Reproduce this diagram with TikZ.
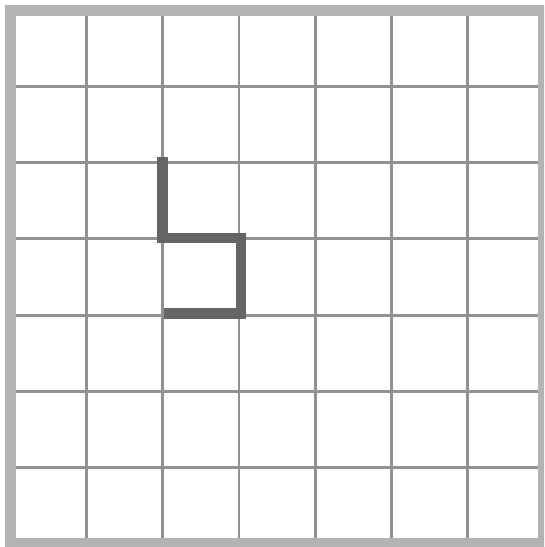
\documentclass[tikz,border=0pt]{standalone}
\usetikzlibrary{calc}
\definecolor{framegray}{HTML}{B3B3B3}
\definecolor{linegray}{HTML}{919191}
\definecolor{walkgray}{HTML}{666666}
\tikzset{
  gridline/.style={draw=linegray, line width=1.05pt},
  frameline/.style={draw=framegray, line width=3.95pt},
  walkline/.style={draw=walkgray, line width=3.9pt, line join=miter, line cap=butt}
}
\begin{document}
\begin{tikzpicture}
    \pgfmathsetmacro{\n}{7}	%cells per side
    \useasboundingbox (-0.135,-0.043) rectangle (7.004,7.135);
    \clip (-0.135,-0.043) rectangle (7.004,7.135);

    \foreach \i in {1,...,6}{
        \draw[gridline] (\i,0) -- (\i,\n);
        \draw[gridline] (0,\i) -- (\n,\i);
    }
    \draw[frameline] (0,0) rectangle (\n,\n);

    \coordinate (W1) at (2,5.07);
    \coordinate (W2) at (2,4.01);
    \coordinate (W3) at (3.03,4.01);
    \coordinate (W4) at (3.03,3.02);
    \coordinate (W5) at (2.02,3.02);
    \draw[walkline] (W1) -- (W2) -- (W3) -- (W4) -- (W5);
\end{tikzpicture}
\end{document}
